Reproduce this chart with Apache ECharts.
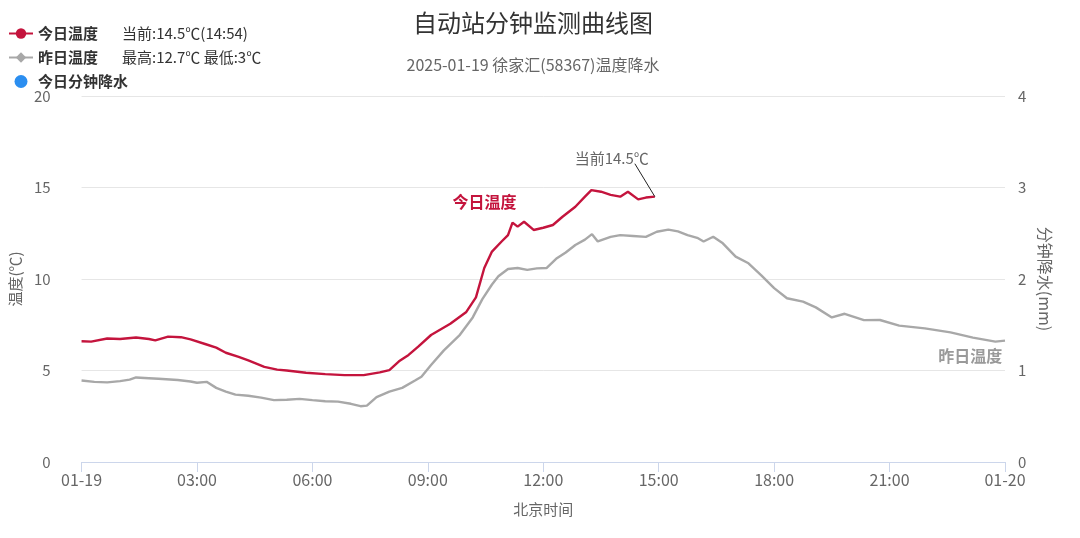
<!DOCTYPE html>
<html><head><meta charset="utf-8">
<script src="https://cdn.jsdelivr.net/npm/echarts@6/dist/echarts.min.js"></script>
<style>html,body{margin:0;padding:0;background:#fff}#c{width:1080px;height:538px}</style>
</head><body><div id="c"></div>
<script>
// x tick labels (every 3 hours)
const xTickLabels = ['01-19','03:00','06:00','09:00','12:00','15:00','18:00','21:00','01-20'];

// Today (01-19) temperature
const todayTimes = ['00:00','00:15','00:40','01:00','01:25','01:45','01:55','02:15','02:35','02:50','03:15','03:30','03:45','04:05','04:20','04:45','05:05','05:20','05:50','06:20','06:50','07:20','07:45','08:00','08:15','08:30','08:45','09:05','09:35','10:00','10:15','10:28','10:40','10:55','11:05','11:12','11:20','11:30','11:45','12:00','12:15','12:30','12:50','13:05','13:15','13:30','13:45','14:00','14:12','14:28','14:40','14:54'];
const todayTemps = [6.6,6.58,6.75,6.72,6.8,6.72,6.65,6.85,6.82,6.7,6.42,6.25,5.97,5.75,5.55,5.2,5.05,5.0,4.88,4.8,4.75,4.75,4.9,5.02,5.5,5.85,6.3,6.94,7.55,8.2,9.0,10.6,11.5,12.05,12.4,13.08,12.86,13.13,12.68,12.8,12.95,13.4,13.95,14.5,14.86,14.77,14.6,14.5,14.77,14.35,14.45,14.5];

// Yesterday (01-18) temperature
const yestTimes = ['00:00','00:20','00:40','01:00','01:15','01:25','01:45','02:00','02:30','02:50','03:00','03:15','03:30','03:45','04:00','04:20','04:40','05:00','05:20','05:40','06:00','06:20','06:40','07:00','07:15','07:25','07:40','08:00','08:20','08:40','08:50','09:05','09:25','09:50','10:10','10:25','10:40','10:50','11:05','11:20','11:35','11:50','12:05','12:20','12:35','12:50','13:05','13:16','13:25','13:45','14:00','14:20','14:40','14:57','15:15','15:30','15:45','16:00','16:10','16:25','16:40','17:00','17:20','17:40','18:00','18:20','18:45','19:05','19:30','19:50','20:20','20:45','21:15','21:55','22:35','23:10','23:45','24:00'];
const yestTemps = [4.45,4.38,4.35,4.42,4.5,4.62,4.58,4.55,4.48,4.4,4.33,4.38,4.05,3.85,3.68,3.62,3.52,3.38,3.4,3.45,3.38,3.32,3.3,3.18,3.05,3.08,3.55,3.85,4.05,4.45,4.66,5.3,6.1,6.95,7.9,8.9,9.7,10.15,10.55,10.6,10.5,10.58,10.6,11.1,11.45,11.86,12.15,12.45,12.05,12.3,12.4,12.35,12.3,12.58,12.7,12.6,12.4,12.25,12.05,12.31,11.95,11.22,10.86,10.2,9.5,8.95,8.76,8.45,7.9,8.1,7.75,7.76,7.45,7.3,7.08,6.8,6.58,6.63];

// Today minute precipitation (none recorded)
const rainTimes = [];
const rainValues = [];

const toH = t => { const [h,m] = t.split(':').map(Number); return h + m/60; };
const pair = (ts, vs) => ts.map((t,i) => [toH(t), vs[i]]);

const todayData = pair(todayTimes, todayTemps);
const yestData = pair(yestTimes, yestTemps);
const rainData = pair(rainTimes, rainValues);
const last = todayData[todayData.length-1];
const maxY = Math.max(...yestTemps), minY = Math.min(...yestTemps);

const RED = '#c4143d', GRAY = '#a8a8a8', BLUE = '#2b8ef0';
const FONT = '"Noto Sans CJK SC","Noto Sans",sans-serif';

const legendInfo = {
  '今日温度': '当前:' + last[1] + '℃(' + todayTimes[todayTimes.length-1] + ')',
  '昨日温度': '最高:' + maxY + '℃ 最低:' + Math.round(minY) + '℃',
  '今日分钟降水': ''
};

const chart = echarts.init(document.getElementById('c'));
chart.setOption({
  animation: false,
  textStyle: { fontFamily: FONT },
  title: {
    text: '自动站分钟监测曲线图',
    subtext: '2025-01-19 徐家汇(58367)温度降水',
    left: 528, textAlign: 'center', top: 6, itemGap: 22,
    textStyle: { fontSize: 24, fontWeight: 'normal', color: '#333', fontFamily: FONT },
    subtextStyle: { fontSize: 16, color: '#666', fontFamily: FONT }
  },
  legend: {
    orient: 'vertical', left: 3, top: 21, itemGap: 9, itemWidth: 24, itemHeight: 13,
    data: [
      { name: '今日温度' },
      { name: '昨日温度' },
      { name: '今日分钟降水', icon: 'circle' }
    ],
    formatter: n => legendInfo[n] ? '{a|' + n + '}{b|' + legendInfo[n] + '}' : '{a|' + n + '}',
    textStyle: {
      fontSize: 15, color: '#333', fontWeight: 'bold', fontFamily: FONT,
      rich: {
        a: { fontSize: 15, color: '#333', fontWeight: 'bold', width: 84, fontFamily: FONT },
        b: { fontSize: 15, color: '#333', fontWeight: 'normal', fontFamily: FONT }
      }
    }
  },
  grid: { left: 75, right: 75, top: 96, bottom: 76 },
  xAxis: {
    type: 'value', min: 0, max: 24, interval: 3,
    name: '北京时间', nameLocation: 'middle', nameGap: 40,
    nameTextStyle: { fontSize: 15, color: '#666' },
    axisLine: { show: true, lineStyle: { color: '#ccd6eb' } },
    axisTick: { show: true, length: 10, lineStyle: { color: '#ccd6eb' } },
    axisLabel: { fontSize: 16, color: '#666', margin: 10, formatter: v => xTickLabels[Math.round(v/3)] },
    splitLine: { show: false }
  },
  yAxis: [
    {
      type: 'value', min: 0, max: 20, interval: 5,
      name: '温度(℃)', nameLocation: 'middle', nameGap: 58, nameRotate: 90,
      nameTextStyle: { fontSize: 15, color: '#666' },
      axisLine: { show: false }, axisTick: { show: false },
      axisLabel: { fontSize: 15, color: '#666', margin: 31 },
      splitLine: { lineStyle: { color: '#e6e6e6' } }
    },
    {
      type: 'value', min: 0, max: 4, interval: 1,
      name: '分钟降水(mm)', nameLocation: 'middle', nameGap: 28, nameRotate: -90,
      nameTextStyle: { fontSize: 16, color: '#666' },
      axisLine: { show: false }, axisTick: { show: false },
      axisLabel: { fontSize: 15, color: '#666', margin: 13 },
      splitLine: { show: false }
    }
  ],
  series: [
    {
      name: '今日温度', type: 'line', data: todayData, showSymbol: false, symbol: 'circle', symbolSize: 9,
      lineStyle: { width: 2.4, color: RED }, itemStyle: { color: RED },
      markPoint: {
        silent: true, symbol: 'rect', symbolSize: 1, itemStyle: { color: 'transparent' },
        data: [
          { coord: [10.47, 14.2], label: { show: true, formatter: '今日温度', fontSize: 16, fontWeight: 'bold', color: RED, position: 'inside' } },
          { coord: [last[0] - 1.12, last[1] + 2.1], label: { show: true, formatter: '当前' + last[1] + '℃', fontSize: 15, color: '#666', position: 'inside' } }
        ]
      },
      markLine: {
        silent: true, symbol: 'none', label: { show: false },
        lineStyle: { color: '#222', width: 1, type: 'solid' },
        data: [[ { coord: [last[0], last[1]] }, { coord: [last[0] - 0.52, last[1] + 1.8] } ]]
      }
    },
    {
      name: '昨日温度', type: 'line', data: yestData, showSymbol: false, symbol: 'diamond', symbolSize: 9,
      lineStyle: { width: 2.4, color: GRAY }, itemStyle: { color: GRAY },
      markPoint: {
        silent: true, symbol: 'rect', symbolSize: 1, itemStyle: { color: 'transparent' },
        data: [
          { coord: [23.1, 5.8], label: { show: true, formatter: '昨日温度', fontSize: 16, fontWeight: 'bold', color: '#9a9a9a', position: 'inside' } }
        ]
      }
    },
    {
      name: '今日分钟降水', type: 'bar', yAxisIndex: 1, data: rainData, itemStyle: { color: BLUE }
    }
  ]
});
</script>
</body></html>
